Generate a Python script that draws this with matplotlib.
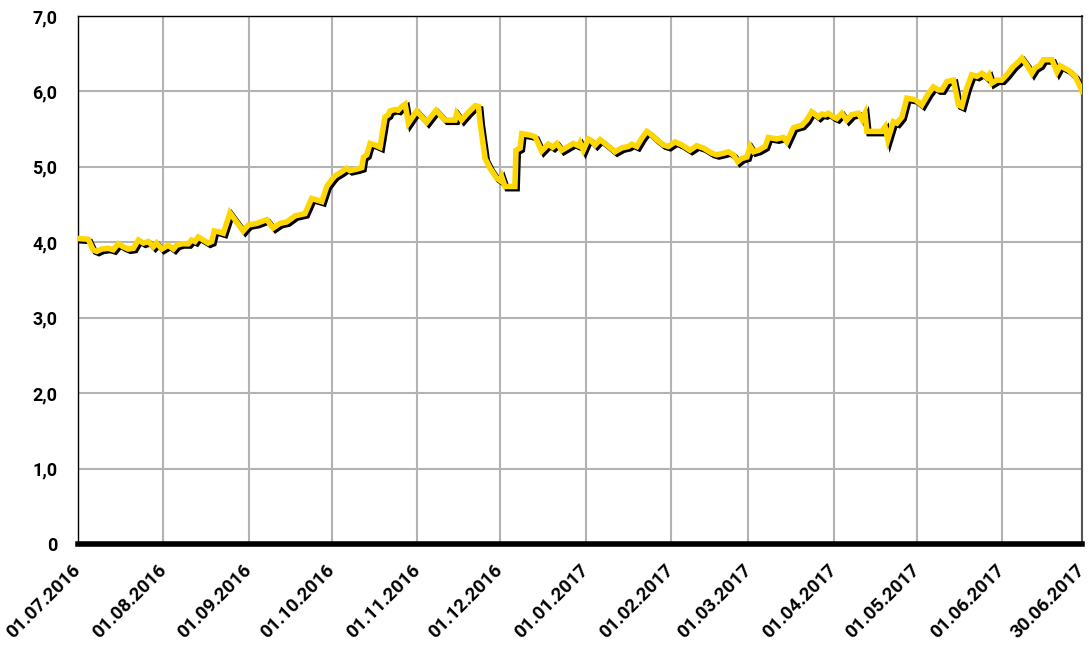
import numpy as np
import pandas as pd
import matplotlib
matplotlib.use("Agg")
import matplotlib.pyplot as plt
import matplotlib.patheffects as pe
from matplotlib.ticker import FuncFormatter

# days after 01.07.2016 and the value
days = [0, 3.7, 5.5, 6.8, 8.6, 11, 12.8, 14.6, 16.4, 18.2, 20.1, 21.9, 23.7, 25.5,
        27.3, 28.5, 30.4, 32.7, 34.6, 35.8, 37.6, 40, 41.2, 42.4, 43.6, 45.4, 47.2,
        48.5, 49.4, 50.9, 52.7, 55.1, 56.9, 59.9, 61.8, 64.8, 68.4, 70.8, 73.2, 75.7,
        78.7, 82.3, 84.7, 88.4, 90.2, 92, 93.2,
        95, 97.4, 98.6, 101.1, 102.9, 103.5, 104.7, 105.9, 107.7, 109.5, 111.3, 112.5,
        113.1, 114.9, 116.1, 117.4, 118.6, 119.8, 122.8, 126.4, 129.8, 133.1, 136.7,
        137.3, 139.1, 141.5, 144, 145.2, 145.8, 147.6, 149.4, 151.8, 153, 153.6, 154.8,
        158.4, 158.8, 160.3, 160.9, 163.9, 165.7, 168.1, 170.5, 172.1, 173.6, 175.4,
        179.6, 181.4, 182, 183.2, 185,
        185.6, 187.5, 189.3, 191.7, 194.7, 197.1, 199.5, 200.8, 202.6, 204.4, 206.2,
        207.4, 209.8, 212.2, 214, 216.5, 218.9, 221.9, 224.3, 226.7, 229.8, 231.6, 234,
        235.8, 237.6, 239.2, 240.6, 242.5, 243.7, 244.9, 246.7, 249.1, 250.3, 253.3,
        255.7, 257, 259.4, 262.4, 264.2, 266, 268.4, 269.6, 270.9, 272, 273.9, 275.1,
        276.9, 278.7, 280.5, 282.9, 284.2, 285.3, 286, 291.4, 292.6, 293.6, 295.6,
        296.9, 298.7, 300.5, 303.5, 305.9, 308.3, 310.1, 311.9, 313.2, 315, 317.4,
        319.2, 320.4, 322.2, 324, 325.9, 327.7, 329.5, 330.3, 331.3, 333.1, 334.9,
        336.7, 339.1, 340.9, 342.2, 344, 345.8, 347, 348.8, 350, 353.1, 354.9, 356.1,
        359.1, 361.5, 362.7, 364]
values = [4.05, 4.04, 3.90, 3.88, 3.91, 3.92, 3.90, 3.98, 3.94, 3.91, 3.92, 4.03, 3.99, 4.01,
          3.94, 3.99, 3.91, 3.96, 3.91, 3.96, 3.98, 3.98, 4.03, 4.01, 4.07, 4.03, 3.99,
          4.01, 4.15, 4.14, 4.12, 4.39, 4.30, 4.15, 4.23, 4.25, 4.30, 4.19, 4.25, 4.27,
          4.35, 4.38, 4.58, 4.54, 4.74, 4.83, 4.88,
          4.92, 4.98, 4.95, 4.97, 4.99, 5.13, 5.16, 5.31, 5.29, 5.26, 5.66, 5.69,
          5.74, 5.76, 5.75, 5.80, 5.83, 5.58, 5.74, 5.59, 5.75, 5.62, 5.62,
          5.71, 5.62, 5.72, 5.81, 5.80, 5.58, 5.11, 4.98, 4.85, 4.82, 4.87, 4.74,
          4.74, 5.22, 5.25, 5.44, 5.42, 5.40, 5.21, 5.30, 5.26, 5.31, 5.22,
          5.31, 5.28, 5.32, 5.22, 5.37,
          5.36, 5.29, 5.36, 5.29, 5.20, 5.25, 5.27, 5.30, 5.27, 5.38, 5.47,
          5.44, 5.36, 5.29, 5.27, 5.33, 5.29, 5.22, 5.28, 5.25, 5.18, 5.16, 5.18,
          5.20, 5.16, 5.07, 5.11, 5.13, 5.27, 5.20, 5.22, 5.27, 5.39, 5.37,
          5.39, 5.33, 5.52, 5.55, 5.62, 5.73, 5.66, 5.70, 5.69, 5.71, 5.66, 5.64,
          5.71, 5.62, 5.69, 5.71, 5.63, 5.71, 5.47, 5.47, 5.53, 5.36, 5.60,
          5.58, 5.66, 5.91, 5.89, 5.82, 5.97, 6.06, 6.02, 6.02, 6.13, 6.15,
          5.82, 5.80, 6.04, 6.22, 6.20, 6.24, 6.18, 6.22, 6.11, 6.15, 6.15,
          6.22, 6.33, 6.39, 6.44, 6.35, 6.24, 6.31, 6.35, 6.42, 6.42, 6.26, 6.34,
          6.28, 6.20, 6.11, 6.00]

tick_dates = ["2016-07-01", "2016-08-01", "2016-09-01", "2016-10-01", "2016-11-01",
              "2016-12-01", "2017-01-01", "2017-02-01", "2017-03-01", "2017-04-01",
              "2017-05-01", "2017-06-01", "2017-06-30"]
y_ticks = [0, 1, 2, 3, 4, 5, 6, 7]

start = pd.Timestamp("2016-07-01")
dates = start + pd.to_timedelta(np.array(days), unit="D")
ticks = pd.to_datetime(tick_dates)

plt.rcParams['font.family'] = ['Roboto', 'DejaVu Sans']

fig = plt.figure(figsize=(10.89, 6.52), dpi=100)
ax = fig.add_axes([0.0716, 0.1656, 0.9220, 0.8099])

ax.plot(dates, values, color="#FFD700", lw=4, solid_joinstyle="miter",
        path_effects=[pe.SimpleLineShadow(offset=(1.6, -1.6), shadow_color="black", alpha=1.0),
                      pe.Normal()], zorder=3)

ax.set_xlim(ticks[0], ticks[-1])
ax.set_ylim(0, 7)
ax.set_xticks(ticks)
ax.set_xticklabels([t.strftime("%d.%m.%Y") for t in ticks], rotation=45,
                   ha="right", va="center", rotation_mode="anchor",
                   fontsize=13.5, fontweight="bold")
ax.set_yticks(y_ticks)
ax.yaxis.set_major_formatter(FuncFormatter(lambda v, p: "0" if v == 0 else f"{v:.1f}".replace(".", ",")))
for lab in ax.get_yticklabels():
    lab.set_fontweight("bold")
    lab.set_fontsize(13)
ax.tick_params(axis="y", length=0, pad=15)
ax.tick_params(axis="x", length=0, pad=17)

ax.grid(True, color="#b3b3b3", lw=1.5)
ax.set_axisbelow(True)

for s in ["left", "top"]:
    ax.spines[s].set_linewidth(1.0)
    ax.spines[s].set_color("black")
ax.spines["right"].set_color("#555555")
ax.spines["right"].set_linewidth(1.5)
ax.spines["bottom"].set_linewidth(4)
ax.spines["bottom"].set_color("black")
ax.spines["bottom"].set_zorder(5)

fig.savefig("out.png", dpi=100)
